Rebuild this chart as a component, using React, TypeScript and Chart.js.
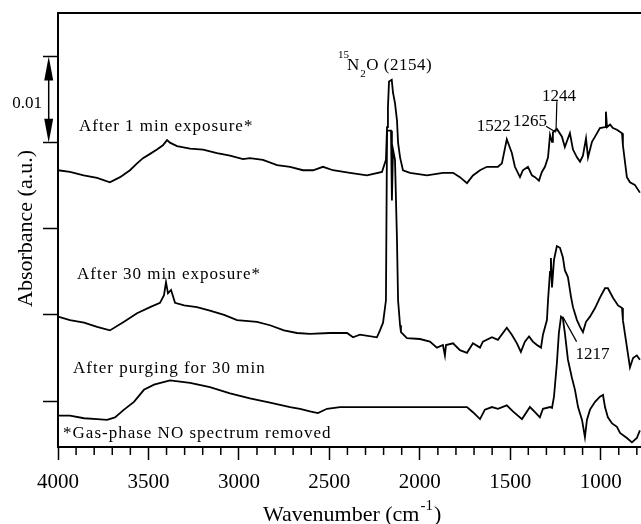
import React, { useEffect, useRef } from "react";
import { Chart, registerables } from "chart.js";

Chart.register(...registerables);

// ---- Data (absorbance in units of 0.01 a.u., arbitrary offsets per trace) ----
const wn1 = [4000,3934,3858,3784,3713,3657,3602,3563,3530,3491,3453,3420,3397,3381,3342,3270,3198,3121,3049,2977,2939,2867,2789,2717,2646,2590,2535,2480,2386,2292,2209,2187,2181,2176,2170,2155,2148,2137,2126,2120,2109,2093,2054,1960,1872,1816,1778,1739,1706,1667,1629,1568,1546,1519,1491,1474,1446,1430,1402,1380,1363,1341,1325,1308,1291,1280,1269,1264,1242,1214,1198,1186,1170,1153,1131,1114,1098,1081,1070,1048,1031,1004,976,971,965,948,932,910,882,877,855,838,811,783];
const abs1 = [2.68,2.66,2.62,2.59,2.54,2.60,2.68,2.76,2.82,2.87,2.92,2.97,3.03,3.00,2.96,2.93,2.92,2.88,2.85,2.81,2.82,2.80,2.74,2.72,2.68,2.68,2.72,2.68,2.65,2.62,2.66,2.80,3.18,3.41,3.71,3.73,3.58,3.46,3.26,3.00,2.83,2.68,2.65,2.62,2.65,2.65,2.60,2.53,2.62,2.68,2.72,2.72,2.76,3.04,2.88,2.72,2.60,2.68,2.72,2.62,2.60,2.56,2.66,2.72,2.83,3.09,3.01,3.12,3.16,3.07,2.95,3.02,3.11,2.92,2.83,2.78,2.85,3.05,2.83,3.01,3.07,3.17,3.18,3.36,3.18,3.21,3.17,3.15,3.11,2.97,2.60,2.54,2.51,2.42];

const wn2 = [4000,3934,3856,3784,3713,3635,3563,3491,3436,3414,3403,3392,3375,3353,3303,3232,3160,3082,3010,2900,2828,2751,2679,2607,2496,2402,2369,2331,2237,2220,2203,2187,2181,2170,2159,2154,2148,2137,2126,2120,2109,2104,2071,1999,1944,1905,1872,1861,1855,1816,1778,1739,1706,1667,1651,1601,1568,1519,1491,1463,1441,1419,1396,1375,1352,1330,1319,1297,1291,1280,1275,1269,1258,1242,1225,1209,1198,1181,1170,1164,1153,1131,1114,1098,1081,1059,1031,1004,976,960,932,904,882,877,855,838,821,800,783];
const abs2 = [0.98,0.94,0.91,0.86,0.82,0.92,1.02,1.09,1.14,1.23,1.38,1.25,1.29,1.14,1.11,1.09,1.05,1.00,0.94,0.92,0.88,0.82,0.79,0.78,0.79,0.79,0.74,0.77,0.74,0.82,0.91,1.17,3.14,3.14,3.14,2.33,2.92,2.80,1.87,1.17,0.88,0.80,0.73,0.72,0.69,0.62,0.65,0.53,0.65,0.67,0.59,0.56,0.67,0.62,0.69,0.74,0.71,0.85,0.77,0.67,0.57,0.69,0.75,0.69,0.65,0.62,0.77,0.94,1.17,1.50,1.66,1.32,1.64,1.80,1.78,1.67,1.52,1.44,1.29,1.21,1.09,0.94,0.86,0.80,0.92,0.98,1.08,1.20,1.31,1.31,1.20,1.11,1.08,0.94,0.63,0.39,0.50,0.53,0.48];

const wn3 = [4000,3934,3856,3784,3729,3685,3635,3580,3525,3469,3381,3270,3160,3049,2939,2828,2717,2662,2607,2563,2513,2441,2292,2109,1927,1739,1706,1667,1640,1601,1568,1519,1485,1435,1391,1363,1336,1319,1280,1269,1258,1242,1231,1219,1209,1198,1181,1159,1142,1125,1103,1087,1076,1059,1031,1004,987,976,960,937,910,893,855,827,800,783];
const abs3 = [-0.17,-0.17,-0.20,-0.21,-0.22,-0.19,-0.10,-0.01,0.13,0.19,0.24,0.21,0.16,0.09,0.03,-0.02,-0.07,-0.09,-0.12,-0.14,-0.09,-0.07,-0.07,-0.07,-0.07,-0.07,-0.13,-0.21,-0.10,-0.07,-0.09,-0.05,-0.12,-0.21,-0.07,-0.13,-0.19,-0.09,-0.07,-0.08,0.05,0.44,0.79,0.98,0.96,0.79,0.48,0.27,0.13,-0.07,-0.22,-0.42,-0.22,-0.10,-0.01,0.05,0.07,-0.07,-0.19,-0.26,-0.30,-0.37,-0.43,-0.48,-0.43,-0.34];

const xMajorTicks = [4000, 3500, 3000, 2500, 2000, 1500, 1000];
const xMinorTicks = [3900,3800,3700,3600,3400,3300,3200,3100,2900,2800,2700,2600,2400,2300,2200,2100,1900,1800,1700,1600,1400,1300,1200,1100,900,800];
const yTicks = [0, 1, 2, 3, 4];

const seriesLabels = ["After 1 min exposure*", "After 30 min exposure*", "After purging for 30 min"];
const seriesLabelWn = [3884, 3895, 3917];
const seriesLabelY = [3.14, 1.42, 0.33];

const footnote = "*Gas-phase NO spectrum removed";
const footnoteWn = 3972;
const footnoteY = -0.43;

const peakLabels = ["1522", "1265", "1244", "1217"];
const peakLabelWn = [1591, 1391, 1230, 1045];
const peakLabelY = [3.13, 3.19, 3.48, 0.49];

// leader lines: [wnStart, yStart, wnEnd, yEnd]
const leaderLines = [
  [1302, 3.19, 1247, 3.12],
  [1242, 3.48, 1247, 3.13],
  [1210, 0.98, 1133, 0.69],
];

const n2oLabelWn = 2452;
const n2oLabelY = 3.84;

const FONT = '"Liberation Serif", "Times New Roman", serif';

function drawText(ctx: CanvasRenderingContext2D, s: string, x: number, y: number, size: number, align: CanvasTextAlign = "left", spacing = 0) {
  ctx.font = `${size}px ${FONT}`;
  (ctx as any).letterSpacing = `${spacing}px`;
  ctx.textAlign = align;
  ctx.textBaseline = "alphabetic";
  ctx.fillText(s, x, y);
  (ctx as any).letterSpacing = "0px";
}

const annotationPlugin = {
  id: "annotations",
  afterDraw(chart: any) {
    const { ctx, chartArea: ca, scales } = chart;
    const xs = scales.x;
    const ys = scales.y;
    ctx.save();
    ctx.strokeStyle = "#000";
    ctx.fillStyle = "#000";

    // top frame line
    ctx.lineWidth = 2;
    ctx.beginPath();
    ctx.moveTo(ca.left - 1, ca.top);
    ctx.lineTo(ca.right, ca.top);
    ctx.stroke();

    // minor x ticks
    ctx.lineWidth = 1.5;
    xMinorTicks.forEach((v) => {
      const px = xs.getPixelForValue(v);
      ctx.beginPath();
      ctx.moveTo(px, ca.bottom);
      ctx.lineTo(px, ca.bottom + 8);
      ctx.stroke();
    });

    // scale bar with arrows
    const bx = ca.left - 9.3;
    const yTop = ys.getPixelForValue(4);
    const yBot = ys.getPixelForValue(3);
    ctx.lineWidth = 1.5;
    ctx.beginPath();
    ctx.moveTo(bx, yTop + 10);
    ctx.lineTo(bx, yBot - 10);
    ctx.stroke();
    ctx.beginPath();
    ctx.moveTo(bx, yTop);
    ctx.lineTo(bx - 4.5, yTop + 24);
    ctx.lineTo(bx + 4.5, yTop + 24);
    ctx.closePath();
    ctx.fill();
    ctx.beginPath();
    ctx.moveTo(bx, yBot);
    ctx.lineTo(bx - 4.5, yBot - 24);
    ctx.lineTo(bx + 4.5, yBot - 24);
    ctx.closePath();
    ctx.fill();
    drawText(ctx, "0.01", ca.left - 31, ys.getPixelForValue(3.40), 17, "center");

    // series labels
    seriesLabels.forEach((s, i) => {
      drawText(ctx, s, xs.getPixelForValue(seriesLabelWn[i]), ys.getPixelForValue(seriesLabelY[i]), 17, "left", 1);
    });
    drawText(ctx, footnote, xs.getPixelForValue(footnoteWn), ys.getPixelForValue(footnoteY), 17, "left", 1);

    // peak labels
    peakLabels.forEach((s, i) => {
      drawText(ctx, s, xs.getPixelForValue(peakLabelWn[i]), ys.getPixelForValue(peakLabelY[i]), 17, "center");
    });

    // leader lines
    ctx.lineWidth = 1.2;
    leaderLines.forEach(([w1, a1, w2, a2]) => {
      ctx.beginPath();
      ctx.moveTo(xs.getPixelForValue(w1), ys.getPixelForValue(a1));
      ctx.lineTo(xs.getPixelForValue(w2), ys.getPixelForValue(a2));
      ctx.stroke();
    });

    // 15N2O (2154)
    let nx = xs.getPixelForValue(n2oLabelWn);
    const ny = ys.getPixelForValue(n2oLabelY);
    drawText(ctx, "15", nx, ny - 12, 11);
    nx += 9;
    drawText(ctx, "N", nx, ny, 17);
    ctx.font = `17px ${FONT}`;
    nx += ctx.measureText("N").width + 1;
    drawText(ctx, "2", nx, ny + 6.5, 11);
    ctx.font = `11px ${FONT}`;
    nx += ctx.measureText("2").width + 0.5;
    drawText(ctx, "O (2154)", nx, ny, 17, "left", 0.5);

    // y title
    ctx.save();
    ctx.translate(32, 228.5);
    ctx.rotate(-Math.PI / 2);
    drawText(ctx, "Absorbance (a.u.)", 0, 0, 22, "center");
    ctx.restore();

    // x title with superscript
    let tx = 263;
    const tb = 521;
    drawText(ctx, "Wavenumber (cm", tx, tb, 22);
    ctx.font = `22px ${FONT}`;
    tx += ctx.measureText("Wavenumber (cm").width + 1;
    drawText(ctx, "-1", tx, tb - 11, 15);
    ctx.font = `15px ${FONT}`;
    tx += ctx.measureText("-1").width + 1;
    drawText(ctx, ")", tx, tb, 22);

    ctx.restore();
  },
};

export default function App() {
  const canvasRef = useRef<HTMLCanvasElement | null>(null);

  useEffect(() => {
    const canvas = canvasRef.current;
    if (!canvas) return;
    const mk = (wn: number[], ab: number[]) => wn.map((w, i) => ({ x: w, y: ab[i] }));
    const chart = new Chart(canvas, {
      type: "line",
      data: {
        datasets: [
          { label: seriesLabels[0], data: mk(wn1, abs1) },
          { label: seriesLabels[1], data: mk(wn2, abs2) },
          { label: seriesLabels[2], data: mk(wn3, abs3) },
        ],
      },
      options: {
        animation: false,
        responsive: false,
        devicePixelRatio: 1,
        layout: { padding: { top: 13, left: 0, right: 0, bottom: 0 } },
        plugins: { legend: { display: false }, tooltip: { enabled: false }, title: { display: false } },
        elements: {
          point: { radius: 0 },
          line: { borderWidth: 1.8, tension: 0, borderColor: "#000", fill: false, borderJoinStyle: "miter" },
        },
        scales: {
          x: {
            type: "linear",
            reverse: true,
            min: 777,
            max: 4000,
            afterFit: (s: any) => {
              s.height = 77;
            },
            afterBuildTicks: (s: any) => {
              s.ticks = xMajorTicks.map((v) => ({ value: v }));
            },
            ticks: {
              font: { family: FONT, size: 21 },
              color: "#000",
              padding: 10,
              maxRotation: 0,
              autoSkip: false,
              callback: (v: any) => String(v),
            },
            grid: { drawOnChartArea: false, drawTicks: true, tickLength: 13, tickWidth: 1.5, tickColor: "#000" },
            border: { display: true, color: "#000", width: 2 },
          },
          y: {
            type: "linear",
            min: -0.534,
            max: 4.506,
            afterFit: (s: any) => {
              s.width = 58;
            },
            afterBuildTicks: (s: any) => {
              s.ticks = yTicks.map((v) => ({ value: v }));
            },
            ticks: { display: false },
            grid: { drawOnChartArea: false, drawTicks: true, tickLength: 15, tickWidth: 1.5, tickColor: "#000" },
            border: { display: true, color: "#000", width: 2 },
          },
        },
      } as any,
      plugins: [annotationPlugin],
    });
    return () => chart.destroy();
  }, []);

  return (
    <canvas
      ref={canvasRef}
      width={641}
      height={524}
      style={{ position: "absolute", left: 0, top: 0, width: 641, height: 524, display: "block", background: "#fff" }}
    />
  );
}
